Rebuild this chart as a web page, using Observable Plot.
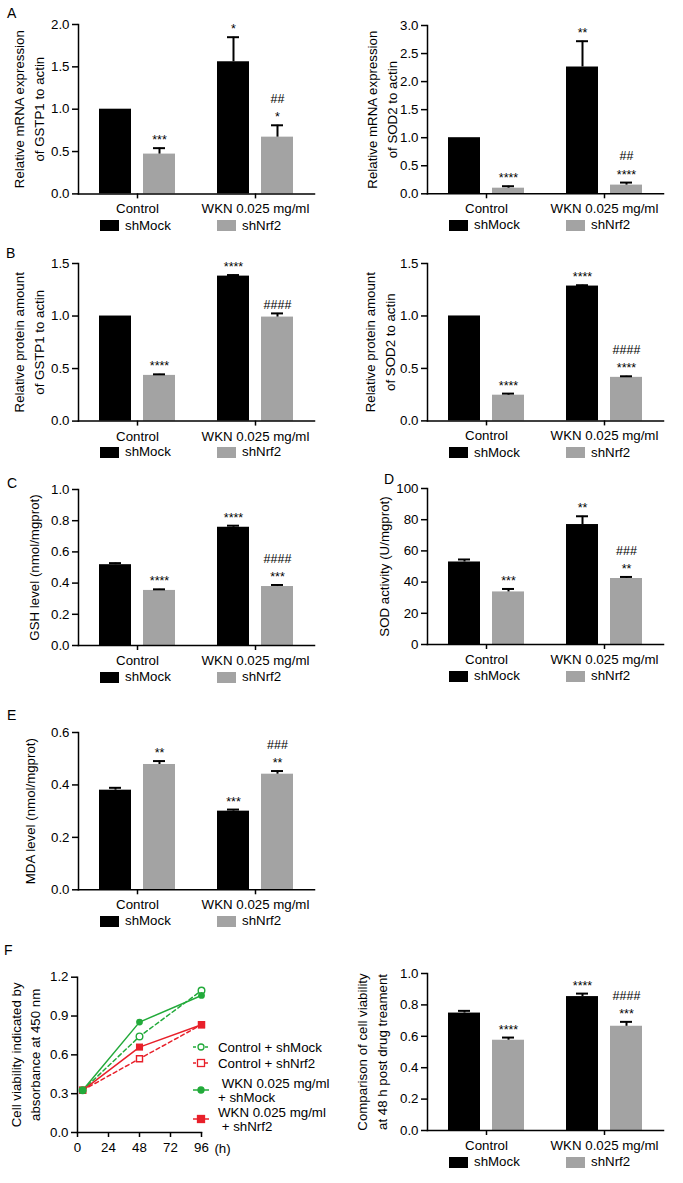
<!DOCTYPE html>
<html><head><meta charset="utf-8">
<script src="https://cdn.jsdelivr.net/npm/d3@7"></script>
<script src="https://cdn.jsdelivr.net/npm/@observablehq/plot@0.6"></script>
<style>
body{margin:0;background:#fff;}
#fig{position:relative;width:683px;height:1183px;font-family:"Liberation Sans",Arial,sans-serif;color:#000;overflow:hidden;background:#fff}
#fig svg{position:absolute}
.lbl{position:absolute;font-size:14px;line-height:14px}
.leg{position:absolute;font-size:13.3px;line-height:16px;height:16px;display:flex;align-items:center;white-space:nowrap}
.sw{display:inline-block;width:19px;height:11px;margin-right:6px}
</style></head><body><div id="fig"></div>
<script>
const GROUPS = ["Control", "WKN 0.025 mg/ml"];
const SERIES = ["shMock", "shNrf2"];
const COLORS = ["#000000", "#a3a3a3"];

// A left: GSTP1 mRNA
const a1Mock = [1.00, 1.56], a1MockErr = [0, 0.29], a1MockSig = ["", "*"];
const a1Nrf2 = [0.47, 0.67], a1Nrf2Err = [0.07, 0.14], a1Nrf2Sig = ["***", "*"], a1Nrf2Hash = ["", "##"];
// A right: SOD2 mRNA
const a2Mock = [1.00, 2.26], a2MockErr = [0, 0.46], a2MockSig = ["", "**"];
const a2Nrf2 = [0.10, 0.155], a2Nrf2Err = [0.035, 0.045], a2Nrf2Sig = ["****", "****"], a2Nrf2Hash = ["", "##"];
// B left: GSTP1 protein
const b1Mock = [1.00, 1.38], b1MockErr = [0, 0.01], b1MockSig = ["", "****"];
const b1Nrf2 = [0.435, 0.99], b1Nrf2Err = [0.01, 0.035], b1Nrf2Sig = ["****", ""], b1Nrf2Hash = ["", "####"];
// B right: SOD2 protein
const b2Mock = [1.00, 1.285], b2MockErr = [0, 0.008], b2MockSig = ["", "****"];
const b2Nrf2 = [0.245, 0.415], b2Nrf2Err = [0.015, 0.01], b2Nrf2Sig = ["****", "****"], b2Nrf2Hash = ["", "####"];
// C: GSH
const cMock = [0.518, 0.758], cMockErr = [0.01, 0.01], cMockSig = ["", "****"];
const cNrf2 = [0.353, 0.378], cNrf2Err = [0.007, 0.01], cNrf2Sig = ["****", "***"], cNrf2Hash = ["", "####"];
// D: SOD activity
const dMock = [52.9, 76.9], dMockErr = [1.6, 5.3], dMockSig = ["", "**"];
const dNrf2 = [33.7, 42.3], dNrf2Err = [1.9, 1.0], dNrf2Sig = ["***", "**"], dNrf2Hash = ["", "###"];
// E: MDA
const eMock = [0.38, 0.30], eMockErr = [0.009, 0.006], eMockSig = ["", "***"];
const eNrf2 = [0.478, 0.441], eNrf2Err = [0.013, 0.012], eNrf2Sig = ["**", "**"], eNrf2Hash = ["", "###"];
// F right: viability at 48 h
const fMock = [0.748, 0.853], fMockErr = [0.014, 0.019], fMockSig = ["", "****"];
const fNrf2 = [0.575, 0.664], fNrf2Err = [0.017, 0.028], fNrf2Sig = ["****", "***"], fNrf2Hash = ["", "####"];

// F left: time course
const HOURS = [4, 48, 96];
const F_LABELS = ["Control + shMock", "Control + shNrf2", " WKN 0.025 mg/ml\n+ shMock", "WKN 0.025 mg/ml\n + shNrf2"];
const fCtrlMock = [0.326, 0.742, 1.097], fCtrlMockErr = [0.008, 0.010, 0.022];
const fCtrlNrf2 = [0.326, 0.570, 0.833], fCtrlNrf2Err = [0.008, 0.012, 0.012];
const fWknMock = [0.326, 0.853, 1.059], fWknMockErr = [0.008, 0.010, 0.012];
const fWknNrf2 = [0.326, 0.660, 0.833], fWknNrf2Err = [0.008, 0.018, 0.015];

const FONT = '"Liberation Sans", Arial, sans-serif';
const fig = document.getElementById("fig");

function table(vals, errs, sigs, hashes) {
  return GROUPS.map((g, i) => ({group: g, value: vals[i], err: errs[i],
    note: [hashes ? hashes[i] : "", sigs[i]].filter(Boolean).join("\n")}));
}

function place(el, left, top) {
  el.style.left = left + "px"; el.style.top = top + "px";
  fig.appendChild(el);
}

const panels = [];
function barPanel(p) {
  const isLeft = p.side === "L";
  const left = isLeft ? 0 : 340, width = isLeft ? 340 : 343;
  const axisX = isLeft ? 78 : 427, axisEnd = axisX + 236;
  const mock = table(p.mock, p.mockErr, p.mockSig);
  const nrf = table(p.nrf, p.nrfErr, p.nrfSig, p.nrfHash);
  const top = p.yTop - 26, height = (p.yBottom - top) + 24;
  const svg = Plot.plot({
    width, height,
    marginLeft: axisX - left, marginRight: left + width - axisEnd,
    marginTop: p.yTop - top, marginBottom: top + height - p.yBottom,
    style: {fontFamily: FONT, fontSize: "13.3px", background: "none", color: "#000"},
    x: {domain: GROUPS, paddingInner: 0.356, paddingOuter: 0.178, align: 0.5},
    y: {domain: p.domain},
    marks: [
      Plot.barY(mock, {x: "group", y: "value", fill: COLORS[0], insetRight: 44}),
      Plot.barY(nrf, {x: "group", y: "value", fill: COLORS[1], insetLeft: 44}),
      Plot.ruleX(mock.filter(d => d.err > 0), {x: "group", y1: "value", y2: d => d.value + d.err, dx: -22, stroke: "#000", strokeWidth: 2}),
      Plot.tickY(mock.filter(d => d.err > 0), {x: "group", y: d => d.value + d.err, insetLeft: 10, insetRight: 54, stroke: "#000", strokeWidth: 2}),
      Plot.ruleX(nrf.filter(d => d.err > 0), {x: "group", y1: "value", y2: d => d.value + d.err, dx: 22, stroke: "#000", strokeWidth: 2}),
      Plot.tickY(nrf.filter(d => d.err > 0), {x: "group", y: d => d.value + d.err, insetLeft: 54, insetRight: 10, stroke: "#000", strokeWidth: 2}),
      Plot.text(mock.filter(d => d.note), {x: "group", y: d => d.value + d.err, text: "note", dx: -22, dy: -4, lineAnchor: "bottom", lineHeight: 1.45, fontSize: 12.5}),
      Plot.text(nrf.filter(d => d.note), {x: "group", y: d => d.value + d.err, text: "note", dx: 22, dy: -4, lineAnchor: "bottom", lineHeight: 1.45, fontSize: 12.5}),
      Plot.axisX({tickSize: 5, tickPadding: 5, strokeWidth: 1.5, label: null}),
      Plot.axisY({ticks: p.ticks, tickFormat: d3.format(p.fmt), tickSize: 6, tickPadding: 3, strokeWidth: 1.5, label: null}),
      Plot.frame({anchor: "left", strokeWidth: 1.5}),
      Plot.frame({anchor: "bottom", strokeWidth: 1.5}),
      Plot.text([p.ylabel], {frameAnchor: "left", text: d => d, rotate: -90, dx: p.labelDx, textAnchor: "middle", lineHeight: 1.5, lineAnchor: "middle"})
    ]
  });
  place(svg, left, top);
  panels.push({axisX, legendY: p.yBottom + 32});
}

barPanel({side: "L", yTop: 24.3, yBottom: 193.7, domain: [0, 2], ticks: [0, 0.5, 1, 1.5, 2], fmt: ".1f",
  ylabel: "Relative mRNA expression\nof GSTP1 to actin", labelDx: -51,
  mock: a1Mock, mockErr: a1MockErr, mockSig: a1MockSig, nrf: a1Nrf2, nrfErr: a1Nrf2Err, nrfSig: a1Nrf2Sig, nrfHash: a1Nrf2Hash});
barPanel({side: "R", yTop: 24.7, yBottom: 193, domain: [0, 3], ticks: [0, 0.5, 1, 1.5, 2, 2.5, 3], fmt: ".1f",
  ylabel: "Relative mRNA expression\nof SOD2 to actin", labelDx: -47,
  mock: a2Mock, mockErr: a2MockErr, mockSig: a2MockSig, nrf: a2Nrf2, nrfErr: a2Nrf2Err, nrfSig: a2Nrf2Sig, nrfHash: a2Nrf2Hash});
barPanel({side: "L", yTop: 262.7, yBottom: 420.3, domain: [0, 1.5], ticks: [0, 0.5, 1, 1.5], fmt: ".1f",
  ylabel: "Relative protein amount\nof GSTP1 to actin", labelDx: -51,
  mock: b1Mock, mockErr: b1MockErr, mockSig: b1MockSig, nrf: b1Nrf2, nrfErr: b1Nrf2Err, nrfSig: b1Nrf2Sig, nrfHash: b1Nrf2Hash});
barPanel({side: "R", yTop: 263.3, yBottom: 420.7, domain: [0, 1.5], ticks: [0, 0.5, 1, 1.5], fmt: ".1f",
  ylabel: "Relative protein amount\nof SOD2 to actin", labelDx: -49,
  mock: b2Mock, mockErr: b2MockErr, mockSig: b2MockSig, nrf: b2Nrf2, nrfErr: b2Nrf2Err, nrfSig: b2Nrf2Sig, nrfHash: b2Nrf2Hash});
barPanel({side: "L", yTop: 489, yBottom: 645, domain: [0, 1], ticks: [0, 0.2, 0.4, 0.6, 0.8, 1], fmt: ".1f",
  ylabel: "GSH level (nmol/mgprot)", labelDx: -46,
  mock: cMock, mockErr: cMockErr, mockSig: cMockSig, nrf: cNrf2, nrfErr: cNrf2Err, nrfSig: cNrf2Sig, nrfHash: cNrf2Hash});
barPanel({side: "R", yTop: 488.3, yBottom: 644.3, domain: [0, 100], ticks: [0, 20, 40, 60, 80, 100], fmt: "d",
  ylabel: "SOD activity (U/mgprot)", labelDx: -45,
  mock: dMock, mockErr: dMockErr, mockSig: dMockSig, nrf: dNrf2, nrfErr: dNrf2Err, nrfSig: dNrf2Sig, nrfHash: dNrf2Hash});
barPanel({side: "L", yTop: 731.7, yBottom: 889, domain: [0, 0.6], ticks: [0, 0.2, 0.4, 0.6], fmt: ".1f",
  ylabel: "MDA level (nmol/mgprot)", labelDx: -50,
  mock: eMock, mockErr: eMockErr, mockSig: eMockSig, nrf: eNrf2, nrfErr: eNrf2Err, nrfSig: eNrf2Sig, nrfHash: eNrf2Hash});
barPanel({side: "R", yTop: 973.3, yBottom: 1130.3, domain: [0, 1], ticks: [0, 0.2, 0.4, 0.6, 0.8, 1], fmt: ".1f",
  ylabel: "Comparison of cell viability\nat 48 h post drug treament", labelDx: -57,
  mock: fMock, mockErr: fMockErr, mockSig: fMockSig, nrf: fNrf2, nrfErr: fNrf2Err, nrfSig: fNrf2Sig, nrfHash: fNrf2Hash});

// F left line chart
const GREEN = "#22aa3a", RED = "#e8202a";
function series(vals, errs, name) { return HOURS.map((h, i) => ({name, h, v: vals[i], e: errs[i]})); }
const sCM = series(fCtrlMock, fCtrlMockErr, F_LABELS[0]);
const sCN = series(fCtrlNrf2, fCtrlNrf2Err, F_LABELS[1]);
const sWM = series(fWknMock, fWknMockErr, F_LABELS[2]);
const sWN = series(fWknNrf2, fWknNrf2Err, F_LABELS[3]);
{
  const top = 950, left = 0, width = 340, height = 215;
  const axisX = 77, axisEnd = 201, yTop = 976.7, yBottom = 1132;
  const svg = Plot.plot({
    width, height,
    marginLeft: axisX - left, marginRight: left + width - axisEnd,
    marginTop: yTop - top, marginBottom: top + height - yBottom,
    style: {fontFamily: FONT, fontSize: "13.3px", background: "none", color: "#000"},
    x: {domain: [0, 96]},
    y: {domain: [0, 1.2]},
    marks: [
      Plot.ruleX([...sCN, ...sWN], {x: "h", y1: d => d.v - d.e, y2: d => d.v + d.e, stroke: RED, strokeWidth: 1.2}),
      Plot.ruleX([...sCM, ...sWM], {x: "h", y1: d => d.v - d.e, y2: d => d.v + d.e, stroke: GREEN, strokeWidth: 1.2}),
      Plot.line(sCN, {x: "h", y: "v", stroke: RED, strokeWidth: 1.5, strokeDasharray: "4,3"}),
      Plot.line(sCM, {x: "h", y: "v", stroke: GREEN, strokeWidth: 1.5, strokeDasharray: "4,3"}),
      Plot.line(sWN, {x: "h", y: "v", stroke: RED, strokeWidth: 1.5}),
      Plot.line(sWM, {x: "h", y: "v", stroke: GREEN, strokeWidth: 1.5}),
      Plot.dot(sCN, {x: "h", y: "v", symbol: "square", r: 3.4, fill: "white", stroke: RED, strokeWidth: 1.4}),
      Plot.dot(sWN, {x: "h", y: "v", symbol: "square", r: 4, fill: RED}),
      Plot.dot(sCM, {x: "h", y: "v", symbol: "circle", r: 3.3, fill: "white", stroke: GREEN, strokeWidth: 1.4}),
      Plot.dot(sWM, {x: "h", y: "v", symbol: "circle", r: 3.4, fill: GREEN}),
      Plot.axisX({ticks: [0, 24, 48, 72, 96], tickSize: 5, tickPadding: 5, strokeWidth: 1.5, label: null}),
      Plot.axisY({ticks: [0, 0.3, 0.6, 0.9, 1.2], tickFormat: d3.format(".1f"), tickSize: 6, tickPadding: 3, strokeWidth: 1.5, label: null}),
      Plot.frame({anchor: "left", strokeWidth: 1.5}),
      Plot.frame({anchor: "bottom", strokeWidth: 1.5}),
      Plot.text(["(h)"], {frameAnchor: "bottom-right", text: d => d, dx: 21, dy: 16, textAnchor: "middle", lineAnchor: "middle"}),
      Plot.text(["Cell viability indicated by\nabsorbance at 450 nm"], {frameAnchor: "left", text: d => d, rotate: -90, dx: -53, textAnchor: "middle", lineHeight: 1.4, lineAnchor: "middle"})
    ]
  });
  place(svg, left, top);
}

// F left legend (hand-drawn key)
{
  const W = 150, H = 100;
  const svg = d3.create("svg").attr("width", W).attr("height", H)
    .attr("font-family", FONT).attr("font-size", 13.3);
  const rows = [
    {y: 12, color: GREEN, dash: "3,3", sym: "circle", filled: false, text: F_LABELS[0]},
    {y: 28, color: RED, dash: "3,3", sym: "square", filled: false, text: F_LABELS[1]},
    {y: 55, color: GREEN, dash: null, sym: "circle", filled: true, text: F_LABELS[2]},
    {y: 84, color: RED, dash: null, sym: "square", filled: true, text: F_LABELS[3]}
  ];
  for (const r of rows) {
    svg.append("line").attr("x1", 8).attr("x2", 24).attr("y1", r.y).attr("y2", r.y)
      .attr("stroke", r.color).attr("stroke-width", 1.5).attr("stroke-dasharray", r.dash);
    if (r.sym === "circle") svg.append("circle").attr("cx", 16).attr("cy", r.y).attr("r", 3)
      .attr("fill", r.filled ? r.color : "white").attr("stroke", r.color).attr("stroke-width", 1.3);
    else svg.append("rect").attr("x", 12.5).attr("y", r.y - 3.5).attr("width", 7).attr("height", 7)
      .attr("fill", r.filled ? r.color : "white").attr("stroke", r.color).attr("stroke-width", 1.3);
    const lines = r.text.split("\n");
    const t = svg.append("text").attr("x", 33).attr("y", r.y - (lines.length - 1) * 7).attr("dy", "0.35em")
      .attr("xml:space", "preserve").style("white-space", "pre");
    lines.forEach((l, i) => t.append("tspan").attr("x", 33).attr("dy", i === 0 ? "0.35em" : "1.05em").text(l));
  }
  place(svg.node(), 185, 1035);
}

// bar legends
for (const p of panels) {
  SERIES.forEach((s, i) => {
    const div = document.createElement("div");
    div.className = "leg";
    div.innerHTML = `<span class="sw" style="background:${COLORS[i]}"></span>${s}`;
    place(div, p.axisX + (i === 0 ? 22 : 139), p.legendY - 8);
  });
}

// panel letters
[["A", 7, 5.5], ["B", 6, 246], ["C", 7, 475.5], ["D", 384, 471.5], ["E", 7, 708], ["F", 4, 943]].forEach(([t, x, y]) => {
  const div = document.createElement("div");
  div.className = "lbl"; div.textContent = t;
  place(div, x, y);
});
</script></body></html>
